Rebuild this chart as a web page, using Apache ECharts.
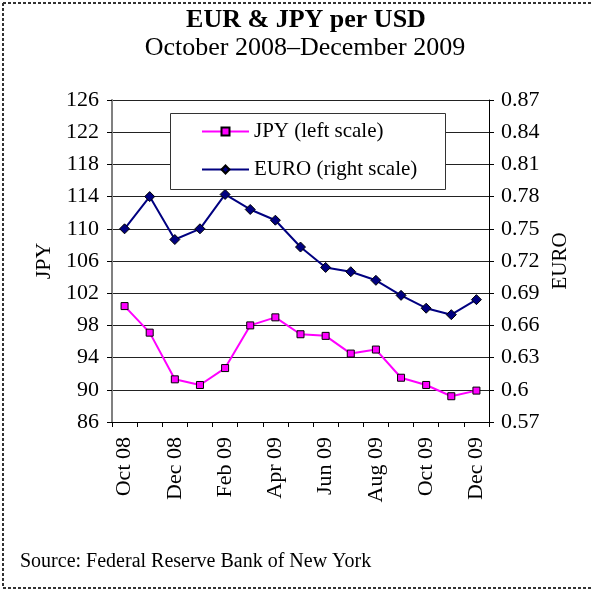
<!DOCTYPE html>
<html>
<head>
<meta charset="utf-8">
<script src="https://cdn.jsdelivr.net/npm/echarts@6/dist/echarts.min.js"></script>
<style>
  html, body { margin: 0; padding: 0; background: #fff; }
  #chart { width: 593px; height: 590px; }
</style>
</head>
<body>
<div id="chart"></div>
<script>
// Monthly averages, October 2008 through December 2009
const months = ['Oct 08', 'Nov 08', 'Dec 08', 'Jan 09', 'Feb 09', 'Mar 09', 'Apr 09',
  'May 09', 'Jun 09', 'Jul 09', 'Aug 09', 'Sep 09', 'Oct 09', 'Nov 09', 'Dec 09'];
const jpyPerUsd = [100.4, 97.1, 91.3, 90.6, 92.7, 98.0, 99.0, 96.9, 96.7, 94.5, 95.0, 91.5, 90.6, 89.2, 89.9];
const eurPerUsd = [0.750, 0.780, 0.740, 0.750, 0.782, 0.768, 0.758, 0.733, 0.714, 0.710, 0.702, 0.688, 0.676, 0.670, 0.684];

const FONT = '"Liberation Serif", "Times New Roman", serif';

const chart = echarts.init(document.getElementById('chart'), null, { renderer: 'canvas' });

chart.setOption({
  backgroundColor: '#fff',
  animation: false,
  textStyle: { fontFamily: FONT, color: '#000' },
  grid: { left: 112, right: 104, top: 100, bottom: 168, containLabel: false },
  graphic: [
    // dashed frame
    { type: 'line', shape: { x1: 3, y1: 3, x2: 593, y2: 3 }, style: { stroke: '#333', lineWidth: 2, lineDash: [3, 2] } },
    { type: 'line', shape: { x1: 3, y1: 3, x2: 3, y2: 588 }, style: { stroke: '#333', lineWidth: 2, lineDash: [3, 2] } },
    { type: 'line', shape: { x1: 3, y1: 588, x2: 593, y2: 588 }, style: { stroke: '#333', lineWidth: 2, lineDash: [3, 2] } },
    // titles
    { type: 'text', x: 306, y: 20, style: { text: 'EUR & JPY per USD', font: 'bold 26px ' + FONT, fill: '#000', align: 'center', verticalAlign: 'middle' } },
    { type: 'text', x: 305, y: 48, style: { text: 'October 2008\u2013December 2009', font: '26px ' + FONT, fill: '#000', align: 'center', verticalAlign: 'middle' } },
    // source note
    { type: 'text', x: 20, y: 562, style: { text: 'Source: Federal Reserve Bank of New York', font: '20px ' + FONT, fill: '#000', align: 'left', verticalAlign: 'middle' } },
    // legend frame
    { type: 'rect', z: 10, shape: { x: 170.5, y: 113.5, width: 275, height: 76 }, style: { fill: '#fff', stroke: '#333', lineWidth: 1 } }
  ],
  legend: {
    z: 20,
    orient: 'vertical',
    left: 201,
    top: 121,
    itemWidth: 47,
    itemHeight: 10,
    itemGap: 17,
    padding: 0,
    textStyle: { fontFamily: FONT, fontSize: 21, color: '#000' },
    data: ['JPY (left scale)', 'EURO (right scale)']
  },
  xAxis: {
    type: 'category',
    data: months,
    boundaryGap: true,
    axisLine: { lineStyle: { color: '#000', width: 1 } },
    axisTick: { show: true, interval: 0, length: 5, lineStyle: { color: '#000' } },
    axisLabel: { interval: 1, rotate: 90, margin: 15, fontFamily: FONT, fontSize: 22, color: '#000' },
    splitLine: { show: false }
  },
  yAxis: [
    {
      type: 'value',
      position: 'left',
      min: 86,
      max: 126,
      alignTicks: true,
      name: 'JPY',
      nameLocation: 'middle',
      nameRotate: 90,
      nameGap: 57,
      nameTextStyle: { fontFamily: FONT, fontSize: 22, color: '#000' },
      axisLine: { show: true, lineStyle: { color: '#808080', width: 2 } },
      axisTick: { show: true, length: 5, lineStyle: { color: '#000' } },
      axisLabel: { margin: 13, fontFamily: FONT, fontSize: 22, color: '#000' },
      splitLine: { show: true, lineStyle: { color: '#222', width: 1 } }
    },
    {
      type: 'value',
      position: 'right',
      min: 0.57,
      max: 0.87,
      interval: 0.03,
      name: 'EURO',
      nameLocation: 'middle',
      nameRotate: 90,
      nameGap: 61,
      nameTextStyle: { fontFamily: FONT, fontSize: 21, color: '#000' },
      axisLine: { show: true, lineStyle: { color: '#000', width: 1 } },
      axisTick: { show: true, length: 5, lineStyle: { color: '#000' } },
      axisLabel: { margin: 12, fontFamily: FONT, fontSize: 22, color: '#000',
        formatter: v => String(+v.toFixed(2)) },
      splitLine: { show: false }
    }
  ],
  series: [
    {
      name: 'JPY (left scale)',
      type: 'line',
      yAxisIndex: 0,
      data: jpyPerUsd,
      symbol: 'rect',
      symbolSize: 7,
      lineStyle: { color: '#FF00FF', width: 2 },
      itemStyle: { color: '#FF00FF', borderColor: '#000', borderWidth: 1 },
      z: 3
    },
    {
      name: 'EURO (right scale)',
      type: 'line',
      yAxisIndex: 1,
      data: eurPerUsd,
      symbol: 'diamond',
      symbolSize: 10,
      lineStyle: { color: '#000080', width: 2 },
      itemStyle: { color: '#000080', borderColor: '#000', borderWidth: 1 },
      z: 4
    }
  ]
});
</script>
</body>
</html>
